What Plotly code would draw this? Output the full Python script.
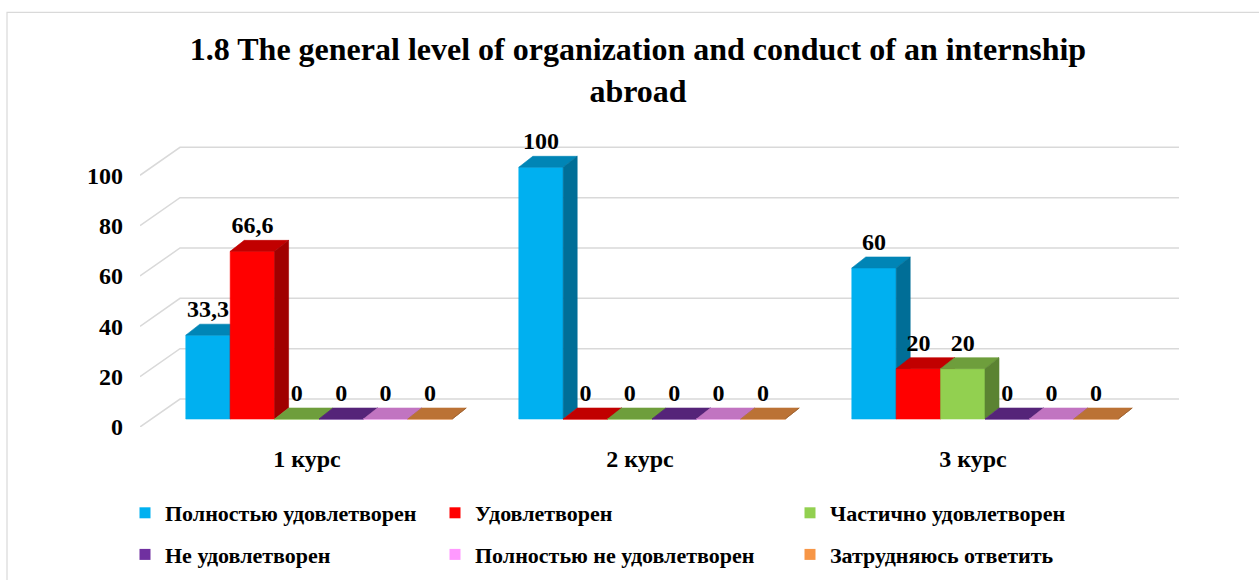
import plotly.graph_objects as go

# ---------------- data ----------------
categories = ["1 курс", "2 курс", "3 курс"]
series_names = [
    "Полностью удовлетворен",
    "Удовлетворен",
    "Частично удовлетворен",
    "Не удовлетворен",
    "Полностью не удовлетворен",
    "Затрудняюсь ответить",
]
fully_satisfied = [33.3, 100, 60]
satisfied = [66.6, 0, 20]
partially_satisfied = [0, 0, 20]
not_satisfied = [0, 0, 0]
fully_not_satisfied = [0, 0, 0]
hard_to_say = [0, 0, 0]
series_values = [fully_satisfied, satisfied, partially_satisfied,
                 not_satisfied, fully_not_satisfied, hard_to_say]
y_ticks = [0, 20, 40, 60, 80, 100]
title_text = "1.8 The general level of organization and conduct of an internship<br>abroad"

# ---------------- style ----------------
colors = ["#00B0F0", "#FF0000", "#92D050", "#7030A0", "#FF99FF", "#F79646"]
FONT = '"Liberation Serif", "Times New Roman", "DejaVu Serif", serif'
GRID = "#d9d9d9"

W, H = 1259, 580
PX_X = 333.0          # pixels per category
PX_Y = 2.52           # pixels per value unit
ML, MR, MB = 140, 80, 153
Y_TOP = 116.0
MT = (H - MB) - Y_TOP * PX_Y
X0 = -0.5015
X1 = X0 + (W - ML - MR) / PX_X

# 3D geometry (in data units)
floor_dx, floor_dy = 40 / PX_X, 28 / PX_Y      # depth of the floor / walls
shift_dx, shift_dy = 12 / PX_X, 8 / PX_Y       # bars' front plane vs floor front
bar_w = 44.4 / PX_X
bar_dx, bar_dy = 14 / PX_X, 11 / PX_Y          # depth of each bar
label_gap = 24 / PX_Y
n_series = len(series_names)


def shade(hex_color, f):
    h = hex_color.lstrip("#")
    r, g, b = (int(h[i:i + 2], 16) for i in (0, 2, 4))
    return "#{:02X}{:02X}{:02X}".format(int(r * f), int(g * f), int(b * f))


fig = go.Figure()

# slanted 3D gridlines
for t in y_ticks:
    fig.add_trace(go.Scatter(
        x=[X0, X0 + floor_dx, X1], y=[t, t + floor_dy, t + floor_dy],
        mode="lines", line=dict(color=GRID, width=1.5),
        hoverinfo="skip", showlegend=False))


def poly(xs, ys, color):
    fig.add_trace(go.Scatter(
        x=xs + [xs[0]], y=ys + [ys[0]], mode="lines", fill="toself",
        fillcolor=color, line=dict(color=color, width=0.6),
        hoverinfo="skip", showlegend=False))


label_x, label_y, label_t = [], [], []
for ci, cat in enumerate(categories):
    for si in range(n_series):
        v = series_values[si][ci]
        left = ci + shift_dx - n_series / 2 * bar_w + si * bar_w
        right = left + bar_w
        base = shift_dy
        top = base + v
        c = colors[si]
        # front face
        poly([left, right, right, left], [base, base, top, top], c)
        # top face
        poly([left, right, right + bar_dx, left + bar_dx],
             [top, top, top + bar_dy, top + bar_dy], shade(c, 0.76))
        # side face
        poly([right, right + bar_dx, right + bar_dx, right],
             [base, base + bar_dy, top + bar_dy, top], shade(c, 0.63))
        label_x.append((left + right) / 2)
        label_y.append(top + label_gap)
        label_t.append(f"{v:g}".replace(".", ","))

fig.add_trace(go.Scatter(
    x=label_x, y=label_y, text=label_t, mode="text",
    textposition="middle center", cliponaxis=False,
    textfont=dict(family=FONT, size=24, color="#000000", weight="bold"),
    hoverinfo="skip", showlegend=False))

# legend entries (three columns, two rows)
legend_ids = ["legend", "legend2", "legend3"]
for si, name in enumerate(series_names):
    fig.add_trace(go.Scatter(
        x=[None], y=[None], mode="markers", name=name,
        marker=dict(symbol="square", size=11, color=colors[si]),
        legend=legend_ids[si % 3], legendgroup=name))

legend_common = dict(
    orientation="v", xref="container", yref="container",
    yanchor="top", xanchor="left", bgcolor="rgba(0,0,0,0)",
    font=dict(family=FONT, size=22, color="#000000", weight="bold"),
    tracegroupgap=10, itemwidth=30)
col_text_x = [167, 477, 832]
legend_top = 492
layouts = {}
for k, lid in enumerate(legend_ids):
    layouts[lid] = dict(legend_common, x=(col_text_x[k] - 42) / W,
                        y=1 - legend_top / H)

fig.update_layout(
    width=W, height=H, autosize=False,
    margin=dict(l=ML, r=MR, t=MT, b=MB, pad=0, autoexpand=False),
    paper_bgcolor="white", plot_bgcolor="white",
    title=dict(text=title_text, x=638 / W, xref="container", xanchor="center",
               y=1 - 60 / H, yref="container", yanchor="top",
               font=dict(family=FONT, size=32, color="#000000", weight="bold")),
    xaxis=dict(range=[X0, X1], tickmode="array", automargin=False,
               tickvals=list(range(len(categories))), ticktext=categories,
               showgrid=False, zeroline=False, showline=False, ticks="",
               ticklabelstandoff=15,
               tickfont=dict(family=FONT, size=24, color="#000000", weight="bold")),
    yaxis=dict(range=[0, Y_TOP], tickmode="array", tickvals=y_ticks,
               automargin=False,
               showgrid=False, zeroline=False, showline=False, ticks="",
               ticklabelstandoff=16,
               tickfont=dict(family=FONT, size=24, color="#000000", weight="bold")),
    shapes=[dict(type="rect", xref="paper", yref="paper",
                 x0=(7 - ML) / (W - ML - MR), x1=(W + 5 - ML) / (W - ML - MR),
                 y0=-0.6, y1=((H - MB) - 12) / (H - MB - MT),
                 line=dict(color=GRID, width=1.2), layer="below")],
    **layouts,
)

fig.write_html("out.html", config={"displayModeBar": False},
               post_script="document.body.style.margin='0px';"
                           "document.body.style.overflow='hidden';")
